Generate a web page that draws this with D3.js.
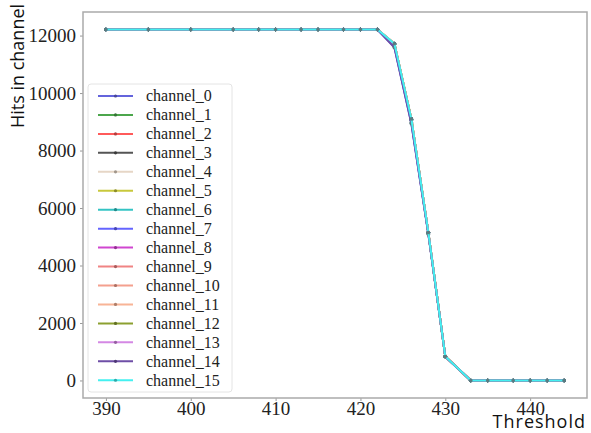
<!DOCTYPE html>
<html>
  <head>
    <meta charset="UTF-8">
    <title>Hits in channel</title>
    <script src="https://cdn.jsdelivr.net/npm/d3@7"></script>
    <style>
      body { margin: 0; background: #fff; }
    </style>
  </head>
  <body>
    <svg width="591" height="433"></svg>
    <script>
      // data
      var thresholds = [390, 395, 400, 405, 408, 410, 413, 415, 418, 420, 422, 424, 426, 428, 430, 433, 435, 438, 440, 442, 444];
      var channels = ["channel_0", "channel_1", "channel_2", "channel_3", "channel_4", "channel_5", "channel_6", "channel_7",
                      "channel_8", "channel_9", "channel_10", "channel_11", "channel_12", "channel_13", "channel_14", "channel_15"];
      var colors = ["#6464dc", "#4ca64c", "#ff5a5a", "#555555", "#e6d6c6", "#c8c83c", "#34c4c4", "#6464ff",
                    "#d046d0", "#f08484", "#f4a08e", "#f8b496", "#8ca030", "#d488e4", "#6e4ea6", "#44f0f0"];
      var hits = [
        [12210, 12210, 12210, 12210, 12210, 12210, 12210, 12210, 12210, 12210, 12210, 11620, 8980, 5120, 830, 0, 0, 0, 0, 0, 0],
        [12210, 12210, 12210, 12210, 12210, 12210, 12210, 12210, 12210, 12210, 12210, 11700, 9080, 5150, 835, 0, 0, 0, 0, 0, 0],
        [12210, 12210, 12210, 12210, 12210, 12210, 12210, 12210, 12210, 12210, 12210, 11710, 9090, 5150, 835, 0, 0, 0, 0, 0, 0],
        [12210, 12210, 12210, 12210, 12210, 12210, 12210, 12210, 12210, 12210, 12210, 11680, 9050, 5140, 830, 0, 0, 0, 0, 0, 0],
        [12210, 12210, 12210, 12210, 12210, 12210, 12210, 12210, 12210, 12210, 12210, 11720, 9100, 5150, 835, 0, 0, 0, 0, 0, 0],
        [12210, 12210, 12210, 12210, 12210, 12210, 12210, 12210, 12210, 12210, 12210, 11720, 9100, 5150, 835, 0, 0, 0, 0, 0, 0],
        [12210, 12210, 12210, 12210, 12210, 12210, 12210, 12210, 12210, 12210, 12210, 11710, 9090, 5150, 835, 0, 0, 0, 0, 0, 0],
        [12210, 12210, 12210, 12210, 12210, 12210, 12210, 12210, 12210, 12210, 12210, 11600, 8950, 5100, 825, 0, 0, 0, 0, 0, 0],
        [12210, 12210, 12210, 12210, 12210, 12210, 12210, 12210, 12210, 12210, 12210, 11700, 9080, 5150, 835, 0, 0, 0, 0, 0, 0],
        [12210, 12210, 12210, 12210, 12210, 12210, 12210, 12210, 12210, 12210, 12210, 11720, 9100, 5150, 835, 0, 0, 0, 0, 0, 0],
        [12210, 12210, 12210, 12210, 12210, 12210, 12210, 12210, 12210, 12210, 12210, 11720, 9100, 5150, 835, 0, 0, 0, 0, 0, 0],
        [12210, 12210, 12210, 12210, 12210, 12210, 12210, 12210, 12210, 12210, 12210, 11720, 9100, 5150, 835, 0, 0, 0, 0, 0, 0],
        [12210, 12210, 12210, 12210, 12210, 12210, 12210, 12210, 12210, 12210, 12210, 11700, 9080, 5140, 835, 0, 0, 0, 0, 0, 0],
        [12210, 12210, 12210, 12210, 12210, 12210, 12210, 12210, 12210, 12210, 12210, 11690, 9060, 5140, 830, 0, 0, 0, 0, 0, 0],
        [12210, 12210, 12210, 12210, 12210, 12210, 12210, 12210, 12210, 12210, 12210, 11580, 8930, 5090, 825, 0, 0, 0, 0, 0, 0],
        [12210, 12210, 12210, 12210, 12210, 12210, 12210, 12210, 12210, 12210, 12210, 11720, 9100, 5150, 835, 0, 0, 0, 0, 0, 0]
      ];
      var xTicks = [390, 400, 410, 420, 430, 440];
      var yTicks = [0, 2000, 4000, 6000, 8000, 10000, 12000];

      var svg = d3.select("svg");
      var marge = {top: 12, bottom: 35, left: 83, right: 4};
      var width = +svg.attr("width");
      var height = +svg.attr("height");

      svg.append("rect").attr("width", width).attr("height", height).attr("fill", "#fff");

      var x = d3.scaleLinear().domain([387.3, 446.7]).range([marge.left, width - marge.right]);
      var y = d3.scaleLinear().domain([-610, 12820]).range([height - marge.bottom, marge.top]);

      // axes
      var xAxis = svg.append("g")
        .attr("transform", "translate(0," + (height - marge.bottom) + ")")
        .call(d3.axisBottom(x).tickValues(xTicks).tickSize(3).tickPadding(0).tickSizeOuter(0));
      var yAxis = svg.append("g")
        .attr("transform", "translate(" + marge.left + ",0)")
        .call(d3.axisLeft(y).tickValues(yTicks).tickSize(3).tickPadding(4).tickFormat(d3.format("d")).tickSizeOuter(0));
      [xAxis, yAxis].forEach(function(a) {
        a.select(".domain").remove();
        a.selectAll("line").attr("stroke", "#999");
        a.selectAll("text")
          .attr("fill", "#222")
          .style("font-family", "'Liberation Serif', 'Times New Roman', serif")
          .style("font-size", "19px");
      });

      // frame
      svg.append("rect")
        .attr("x", marge.left).attr("y", marge.top)
        .attr("width", width - marge.left - marge.right)
        .attr("height", height - marge.top - marge.bottom)
        .attr("fill", "none").attr("stroke", "#aaa").attr("stroke-width", 1.5);

      // lines
      var line = d3.line()
        .x(function(d, i) { return x(thresholds[i]); })
        .y(function(d) { return y(d); });

      var gs = svg.selectAll(".ch")
        .data(hits)
        .enter()
        .append("g")
        .attr("class", "ch");

      gs.append("path")
        .attr("d", function(d) { return line(d); })
        .attr("fill", "none")
        .attr("stroke", function(d, i) { return colors[i]; })
        .attr("stroke-width", 2);

      gs.selectAll("circle")
        .data(function(d, i) { return d.map(function(v, j) { return {v: v, j: j, c: colors[i]}; }); })
        .enter()
        .append("circle")
        .attr("cx", function(d) { return x(thresholds[d.j]); })
        .attr("cy", function(d) { return y(d.v); })
        .attr("r", 1.8)
        .attr("fill", "#5a7a80");

      // legend
      var legend = svg.append("g").attr("transform", "translate(88,84)");
      legend.append("rect")
        .attr("width", 144).attr("height", 308).attr("rx", 3)
        .attr("fill", "#fff").attr("fill-opacity", 0.85)
        .attr("stroke", "#e4e4e4");
      var items = legend.selectAll(".item")
        .data(channels)
        .enter()
        .append("g")
        .attr("transform", function(d, i) { return "translate(0," + (12 + i * 18.95) + ")"; });
      items.append("line")
        .attr("x1", 10).attr("x2", 45)
        .attr("stroke", function(d, i) { return colors[i]; })
        .attr("stroke-width", 2);
      items.append("circle")
        .attr("cx", 27.5).attr("r", 1.6)
        .attr("fill", function(d, i) { return d3.color(colors[i]).darker(1); });
      items.append("text")
        .attr("x", 58).attr("dy", "0.33em")
        .attr("fill", "#222")
        .style("font-family", "'Liberation Serif', 'Times New Roman', serif")
        .style("font-size", "16px")
        .text(function(d) { return d; });

      // axis titles
      svg.append("text")
        .attr("transform", "translate(24,66) rotate(-90)")
        .attr("text-anchor", "middle")
        .attr("fill", "#111")
        .style("font-family", "'Open Sans', sans-serif")
        .style("font-size", "18px")
        .text("Hits in channel");
      svg.append("text")
        .attr("x", 586).attr("y", 428)
        .attr("text-anchor", "end")
        .attr("fill", "#111")
        .style("font-family", "'Open Sans', sans-serif")
        .style("font-size", "18px")
        .style("letter-spacing", "1px")
        .text("Threshold");
    </script>
  </body>
</html>
